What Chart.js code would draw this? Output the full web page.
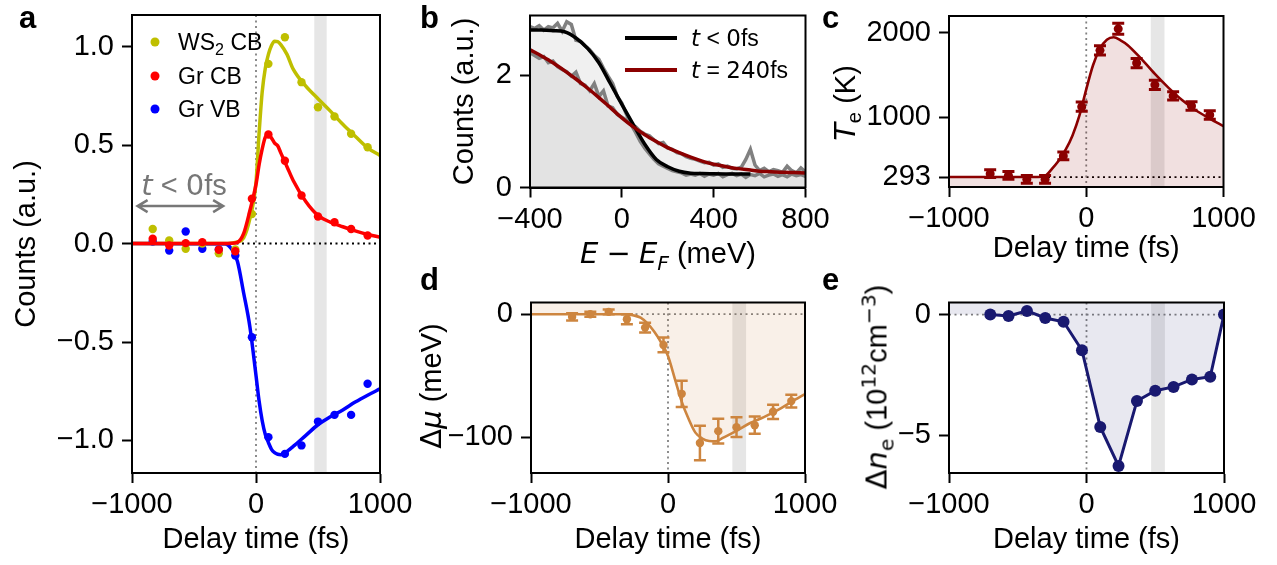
<!DOCTYPE html>
<html>
<head>
<meta charset="utf-8">
<script src="https://cdn.jsdelivr.net/npm/chart.js@4.4.1/dist/chart.umd.min.js"></script>
<style>
  html, body { margin: 0; padding: 0; background: #fff; }
  #fig { position: relative; width: 1277px; height: 565px; overflow: hidden; background: #fff;
         font-family: 'Liberation Sans', Arial, sans-serif; color: #000; }
  #fig canvas { position: absolute; }
  .txt { position: absolute; white-space: nowrap; line-height: 1; }
  .lbl { font-size: 29px; }
  .rot { transform: translate(-50%, -50%) rotate(-90deg); }
  .cen { transform: translate(-50%, -50%); }
  .vmid { transform: translateY(-50%); }
  .letter { font-weight: bold; font-size: 31px; }
  .m { font-family: 'DejaVu Sans', sans-serif; }
  sub, sup { font-size: 0.7em; line-height: 0; }
  .leg { font-size: 23px; }
  .dot { position: absolute; width: 9px; height: 9px; border-radius: 50%; transform: translate(-50%, -50%); }
  .sw { position: absolute; height: 4px; width: 52px; transform: translateY(-50%); }
</style>
</head>
<body>
<div id="fig">
  <canvas id="cA" width="420" height="565" style="left:0;top:0"></canvas>
  <canvas id="cB" width="420" height="270" style="left:420px;top:0"></canvas>
  <canvas id="cC" width="447" height="270" style="left:830px;top:0"></canvas>
  <canvas id="cD" width="420" height="295" style="left:420px;top:270px"></canvas>
  <canvas id="cE" width="447" height="295" style="left:830px;top:270px"></canvas>

  <div class="txt letter" style="left:19px;top:2px">a</div>
  <div class="txt letter" style="left:420px;top:2px">b</div>
  <div class="txt letter" style="left:822px;top:2px">c</div>
  <div class="txt letter" style="left:420px;top:264px">d</div>
  <div class="txt letter" style="left:822px;top:264px">e</div>

  <!-- legend a -->
  <span class="dot" style="left:155px;top:42px;background:#bfbf00"></span>
  <span class="dot" style="left:155px;top:76px;background:#ff0000"></span>
  <span class="dot" style="left:155px;top:109px;background:#0000ff"></span>
  <div class="txt leg vmid" style="left:178px;top:42px">WS<sub>2</sub> CB</div>
  <div class="txt leg vmid" style="left:178px;top:76px">Gr CB</div>
  <div class="txt leg vmid" style="left:178px;top:109px">Gr VB</div>
  <div class="txt cen" style="left:184px;top:185px;font-size:29px;color:#777"><i class="m">t</i> &lt; <span class="m">0</span>fs</div>

  <!-- legend b -->
  <span class="sw" style="left:625px;top:38px;background:#000"></span>
  <span class="sw" style="left:625px;top:70px;background:#8b0000"></span>
  <div class="txt leg vmid" style="left:691px;top:38px"><i class="m">t</i> &lt; <span class="m">0</span>fs</div>
  <div class="txt leg vmid" style="left:691px;top:70px"><i class="m">t</i> = <span class="m">240</span>fs</div>

  <!-- rich axis titles -->
  <div class="txt lbl cen" style="left:668px;top:253px"><i class="m">E</i> <span class="m">−</span> <i class="m">E</i><sub><i class="m">F</i></sub> (meV)</div>
  <div class="txt lbl rot" style="left:845px;top:103px"><i class="m">T</i><sub>e</sub> (K)</div>
  <div class="txt lbl rot" style="left:431px;top:386px"><span class="m">Δ</span><i class="m">μ</i> (meV)</div>
  <div class="txt lbl rot" style="left:877px;top:387px"><span class="m">Δ</span><i class="m">n</i><sub class="m">e</sub> (10<sup class="m">12</sup>cm<sup class="m">−3</sup>)</div>
</div>

<script>
// ---- panel a: band intensities ----
const delays = [-833, -700, -567, -433, -300, -167, -33, 100, 233, 367, 500, 633, 767, 900];
const ws2CB = [0.074, 0.015, -0.027, 0.0, -0.05, -0.03, 0.15, 0.912, 1.047, 0.819, 0.692, 0.645, 0.557, 0.489];
const grCB = [0.024, -0.01, 0.002, 0.007, -0.032, -0.039, 0.227, 0.553, 0.42, 0.244, 0.137, 0.108, 0.074, 0.041];
const grVB = [0.01, -0.036, 0.061, -0.027, -0.03, -0.061, -0.476, -0.983, -1.068, -1.025, -0.904, -0.87, -0.87, -0.712];

const fitT = [-1000, -250, -200, -150, -100, -50, 0, 25, 50, 75, 100, 125, 150, 175, 200, 250, 300, 400, 500, 600, 700, 800, 900, 1000];
const ws2Fit = [0, 0, 0.002, 0.008, 0.028, 0.125, 0.31, 0.56, 0.77, 0.89, 0.96, 1.005, 1.027, 1.025, 1.01, 0.96, 0.885, 0.80, 0.735, 0.672, 0.605, 0.545, 0.486, 0.447];
const cbFit = [0, 0, 0.001, 0.006, 0.05, 0.165, 0.30, 0.40, 0.48, 0.54, 0.552, 0.535, 0.51, 0.496, 0.46, 0.39, 0.32, 0.215, 0.143, 0.108, 0.085, 0.064, 0.046, 0.032];
const vbFit = [0, -0.002, -0.025, -0.09, -0.25, -0.42, -0.67, -0.80, -0.90, -0.97, -1.01, -1.045, -1.062, -1.07, -1.072, -1.055, -1.03, -0.975, -0.92, -0.88, -0.845, -0.805, -0.77, -0.738];

// ---- panel b: energy distribution curves ----
const energy = [-400, -380, -360, -340, -320, -300, -280, -260, -240, -220, -200, -180, -160, -140, -120, -100, -80, -60, -40, -20,
  0, 20, 40, 60, 80, 100, 120, 140, 160, 180, 200, 220, 240, 260, 280, 300, 320, 340, 360, 380,
  400, 420, 440, 460, 480, 500, 520, 540, 560, 580, 600, 620, 640, 660, 680, 700, 720, 740, 760, 780, 800];
const edcBefore = [2.86, 2.83, 2.88, 2.80, 2.86, 2.84, 2.92, 2.78, 2.95, 2.90, 2.62, 2.60, 2.52, 2.45, 2.35, 2.28, 2.12, 1.98, 1.85, 1.62,
  1.50, 1.30, 1.12, 0.98, 0.82, 0.70, 0.60, 0.50, 0.42, 0.38, 0.34, 0.30, 0.28, 0.26, 0.22, 0.24, 0.22, 0.25, 0.20, 0.24,
  0.22, 0.25, 0.19, 0.23, 0.25, 0.21, 0.24, 0.18, 0.23, 0.21, 0.25, 0.19, 0.22, 0.24, 0.20, 0.23, 0.19, 0.24, 0.21, 0.23, 0.20];
const edcAfter = [2.40, 2.35, 2.30, 2.33, 2.22, 2.25, 2.15, 2.10, 2.06, 1.98, 2.05, 1.85, 1.82, 1.72, 1.85, 1.62, 1.72, 1.45, 1.42, 1.30,
  1.25, 1.20, 1.12, 1.08, 1.00, 0.95, 0.92, 0.85, 0.78, 0.80, 0.70, 0.68, 0.62, 0.60, 0.55, 0.52, 0.50, 0.47, 0.44, 0.45,
  0.40, 0.42, 0.36, 0.38, 0.34, 0.33, 0.36, 0.50, 0.68, 0.40, 0.30, 0.34, 0.28, 0.32, 0.30, 0.27, 0.38, 0.30, 0.26, 0.35, 0.28];
const fitE = [-400, -350, -300, -250, -200, -150, -100, -50, 0, 50, 100, 150, 200, 250, 300, 350, 400, 450, 500, 560, 600, 650, 700, 750, 800];
const fermiBefore = [2.80, 2.80, 2.79, 2.77, 2.66, 2.48, 2.22, 1.85, 1.48, 1.12, 0.77, 0.50, 0.37, 0.29, 0.255, 0.247, 0.243, 0.241, 0.24, 0.24, null, null, null, null, null];
const fermiAfter = [2.45, 2.34, 2.22, 2.08, 1.93, 1.77, 1.60, 1.42, 1.24, 1.08, 0.94, 0.82, 0.71, 0.62, 0.54, 0.47, 0.415, 0.375, 0.34, 0.31, 0.29, 0.28, 0.27, 0.265, 0.26];

// ---- panel c: electron temperature ----
const fitDelays = [-700, -567, -433, -300, -167, -33, 100, 233, 367, 500, 633, 767, 900];
const tempE = [333, 313, 265, 265, 543, 1126, 1793, 2048, 1643, 1385, 1254, 1135, 1027];
const tempErr = [45, 45, 45, 45, 45, 55, 55, 65, 55, 55, 50, 50, 50];
const tempFitT = [-1000, -400, -350, -300, -250, -200, -150, -100, -50, 0, 50, 100, 150, 200, 250, 300, 400, 500, 600, 700, 800, 900, 1000];
const tempFit = [293, 293, 293, 305, 390, 490, 617, 786, 1019, 1332, 1620, 1814, 1920, 1948, 1912, 1858, 1695, 1514, 1349, 1202, 1081, 985, 896];

// ---- panel d: chemical potential ----
const muShift = [-2.2, 0, 1.9, -4.1, -10.9, -25, -64.7, -104.6, -95, -91.8, -90.2, -79.3, -70.6];
const muErr = [3, 2, 2, 4, 4, 6, 10.6, 14, 10, 8, 7, 5.8, 5.2];
const muFitT = [-1000, -350, -300, -250, -200, -150, -100, -50, 0, 50, 100, 150, 200, 250, 300, 350, 400, 500, 600, 700, 800, 900, 1000];
const muFit = [0, 0, -0.3, -1.0, -2.8, -7.5, -14.3, -23, -34, -52.5, -71, -85, -96.2, -101, -103, -103.2, -100.5, -94.8, -88.4, -83.6, -78, -71.3, -64.9];

// ---- panel e: carrier density change ----
const densDelays = [-700, -567, -433, -300, -167, -33, 100, 233, 367, 500, 633, 767, 900, 1000];
const densShift = [0, -0.06, 0.15, -0.14, -0.3, -1.48, -4.66, -6.28, -3.58, -3.16, -3.0, -2.69, -2.58, 0];

const timeTicks = [-1000, 0, 1000];
const bandRange = [470, 570];

Chart.defaults.font.family = "'Liberation Sans', Arial, sans-serif";
Chart.defaults.font.size = 29;
Chart.defaults.color = '#000';
Chart.defaults.animation = false;
Chart.defaults.plugins.legend.display = false;
Chart.defaults.plugins.tooltip.enabled = false;

function fmt(v, dec) {
  const s = Math.abs(v).toFixed(dec);
  return (v < 0 ? '\u2212' : '') + s;
}

function pts(xs, ys) {
  const out = [];
  xs.forEach((x, i) => { if (ys[i] !== null) out.push({ x: x, y: ys[i] }); });
  return out;
}

function axis(isX, min, max, tickVals, dec, size, title, titlePad) {
  return {
    type: 'linear',
    min: min,
    max: max,
    afterBuildTicks: (s) => { s.ticks = tickVals.map((v) => ({ value: v })); },
    afterFit: (s) => {
      // fixed box size, no extra overhang padding: chart area is set by layout padding alone
      if (isX) s.height = size; else s.width = size;
      s.paddingTop = 0; s.paddingBottom = 0; s.paddingLeft = 0; s.paddingRight = 0;
    },
    ticks: { autoSkip: false, maxRotation: 0, padding: isX ? 5 : 8, color: '#000', callback: (v) => fmt(v, dec) },
    grid: { display: true, drawOnChartArea: false, drawTicks: true, tickLength: 10, tickWidth: 2, tickColor: '#000' },
    border: { display: true, color: '#000', width: 2 },
    title: title ? { display: true, text: title, color: '#000', padding: titlePad } : { display: false },
  };
}

function dotLine(ctx, x0, y0, x1, y1, color) {
  ctx.save();
  ctx.strokeStyle = color;
  ctx.lineWidth = 1.8;
  ctx.setLineDash([2, 3.5]);
  ctx.beginPath();
  ctx.moveTo(x0, y0);
  ctx.lineTo(x1, y1);
  ctx.stroke();
  ctx.restore();
}

const deco = {
  id: 'deco',
  beforeDatasetsDraw(chart, args, o) {
    const { ctx, chartArea: ca, scales } = chart;
    const x = scales.x, y = scales.y;
    ctx.save();
    ctx.beginPath();
    ctx.rect(ca.left, ca.top, ca.right - ca.left, ca.bottom - ca.top);
    ctx.clip();
    if (o.band) {
      const x0 = x.getPixelForValue(o.band[0]), x1 = x.getPixelForValue(o.band[1]);
      ctx.fillStyle = 'rgba(128,128,128,0.2)';
      ctx.fillRect(x0, ca.top, x1 - x0, ca.bottom - ca.top);
    }
    if (o.hline !== undefined) {
      const py = y.getPixelForValue(o.hline);
      dotLine(ctx, ca.left, py, ca.right, py, o.hlineColor || '#808080');
    }
    if (o.vline !== undefined) {
      const px = x.getPixelForValue(o.vline);
      dotLine(ctx, px, ca.top, px, ca.bottom, '#808080');
    }
    ctx.restore();
  },
  afterDatasetsDraw(chart, args, o) {
    const { ctx, scales } = chart;
    const x = scales.x, y = scales.y;
    ctx.save();
    if (o.errors) {
      const e = o.errors;
      ctx.strokeStyle = e.color;
      ctx.lineWidth = e.width;
      e.xs.forEach((xv, i) => {
        const px = x.getPixelForValue(xv);
        const y0 = y.getPixelForValue(e.ys[i] - e.err[i]);
        const y1 = y.getPixelForValue(e.ys[i] + e.err[i]);
        ctx.beginPath();
        ctx.moveTo(px, y0); ctx.lineTo(px, y1);
        ctx.moveTo(px - e.cap, y0); ctx.lineTo(px + e.cap, y0);
        ctx.moveTo(px - e.cap, y1); ctx.lineTo(px + e.cap, y1);
        ctx.stroke();
      });
    }
    if (o.arrow) {
      const a = o.arrow;
      const x0 = x.getPixelForValue(a.from), x1 = x.getPixelForValue(a.to), py = y.getPixelForValue(a.y);
      ctx.strokeStyle = a.color;
      ctx.lineWidth = 2.5;
      ctx.beginPath();
      ctx.moveTo(x0, py); ctx.lineTo(x1, py);
      ctx.moveTo(x0 + 10, py - 6); ctx.lineTo(x0, py); ctx.lineTo(x0 + 10, py + 6);
      ctx.moveTo(x1 - 10, py - 6); ctx.lineTo(x1, py); ctx.lineTo(x1 - 10, py + 6);
      ctx.stroke();
    }
    ctx.restore();
  },
  afterDraw(chart) {
    const { ctx, chartArea: ca } = chart;
    ctx.save();
    ctx.strokeStyle = '#000';
    ctx.lineWidth = 2;
    ctx.strokeRect(ca.left, ca.top, ca.right - ca.left, ca.bottom - ca.top);
    ctx.restore();
  },
};

function scatterSet(data, color, r, order) {
  return { data: data, showLine: false, pointRadius: r, pointBackgroundColor: color, pointBorderWidth: 0, order: order };
}

function lineSet(data, color, w, order, extra) {
  return Object.assign({
    data: data, showLine: true, borderColor: color, borderWidth: w, pointRadius: 0,
    cubicInterpolationMode: 'monotone', fill: false, order: order,
  }, extra || {});
}

// panel a
new Chart(document.getElementById('cA'), {
  type: 'scatter',
  data: {
    datasets: [
      lineSet(pts(fitT, cbFit), '#ff0000', 3.5, 1),
      scatterSet(pts(delays, grCB), '#ff0000', 4.2, 2),
      lineSet(pts(fitT, ws2Fit), '#bfbf00', 3.5, 3),
      scatterSet(pts(delays, ws2CB), '#bfbf00', 4.2, 4),
      lineSet(pts(fitT, vbFit), '#0000ff', 3.5, 5),
      scatterSet(pts(delays, grVB), '#0000ff', 4.2, 6),
    ],
  },
  options: {
    responsive: false,
    layout: { padding: { left: 0, top: 15, right: 40, bottom: 0 } },
    scales: {
      x: axis(true, -1000, 1000, timeTicks, 0, 92, 'Delay time (fs)', { top: 0, bottom: 8 }),
      y: axis(false, -1.165, 1.16, [-1.0, -0.5, 0.0, 0.5, 1.0], 1, 132, 'Counts (a.u.)', { top: 10, bottom: 0 }),
    },
    plugins: {
      deco: { band: bandRange, hline: 0, hlineColor: '#000', vline: 0, arrow: { from: -955, to: -265, y: 0.19, color: '#777' } },
    },
  },
  plugins: [deco],
});

// panel b
new Chart(document.getElementById('cB'), {
  type: 'scatter',
  data: {
    datasets: [
      lineSet(pts(fitE, fermiAfter), '#8b0000', 3.5, 1),
      lineSet(pts(fitE, fermiBefore), '#000000', 3.5, 2),
      lineSet(pts(energy, edcAfter), '#808080', 3.5, 3, { cubicInterpolationMode: 'default', tension: 0, fill: 'origin', backgroundColor: 'rgba(128,128,128,0.12)' }),
      lineSet(pts(energy, edcBefore), '#808080', 3.5, 4, { cubicInterpolationMode: 'default', tension: 0, fill: 'origin', backgroundColor: 'rgba(128,128,128,0.12)' }),
    ],
  },
  options: {
    responsive: false,
    layout: { padding: { left: 0, top: 15.5, right: 34.5, bottom: 0 } },
    scales: {
      x: axis(true, -400, 800, [-400, 0, 400, 800], 0, 82.5, null),
      y: axis(false, 0, 3.06, [0, 2], 0, 110, 'Counts (a.u.)', { top: 28, bottom: 0 }),
    },
    plugins: { deco: {} },
  },
  plugins: [deco],
});

// panel c
new Chart(document.getElementById('cC'), {
  type: 'scatter',
  data: {
    datasets: [
      scatterSet(pts(fitDelays, tempE), '#8b0000', 4.5, 1),
      lineSet(pts(tempFitT, tempFit), '#8b0000', 2.6, 2, { fill: 'start', backgroundColor: 'rgba(139,0,0,0.12)' }),
    ],
  },
  options: {
    responsive: false,
    layout: { padding: { left: 0, top: 16, right: 53.5, bottom: 0 } },
    scales: {
      x: axis(true, -1000, 1000, timeTicks, 0, 83, 'Delay time (fs)', { top: 0, bottom: 4 }),
      y: axis(false, 175, 2200, [293, 1000, 2000], 0, 119, null),
    },
    plugins: {
      deco: { band: bandRange, hline: 293, hlineColor: '#000', vline: 0,
              errors: { xs: fitDelays, ys: tempE, err: tempErr, color: '#8b0000', width: 3, cap: 6 } },
    },
  },
  plugins: [deco],
});

// panel d
new Chart(document.getElementById('cD'), {
  type: 'scatter',
  data: {
    datasets: [
      scatterSet(pts(fitDelays, muShift), '#cd853f', 4.2, 1),
      lineSet(pts(muFitT, muFit), '#cd853f', 2.6, 2, { fill: 'end', backgroundColor: 'rgba(205,133,63,0.12)' }),
    ],
  },
  options: {
    responsive: false,
    layout: { padding: { left: 0, top: 32.5, right: 35, bottom: 0 } },
    scales: {
      x: axis(true, -1000, 1000, timeTicks, 0, 92, 'Delay time (fs)', { top: 0, bottom: 8 }),
      y: axis(false, -129, 9.5, [-100, 0], 0, 111, null),
    },
    plugins: {
      deco: { band: bandRange, hline: 0, vline: 0,
              errors: { xs: fitDelays, ys: muShift, err: muErr, color: '#cd853f', width: 2.5, cap: 6 } },
    },
  },
  plugins: [deco],
});

// panel e
new Chart(document.getElementById('cE'), {
  type: 'scatter',
  data: {
    datasets: [
      lineSet(pts(densDelays, densShift), '#191970', 3, 1, { cubicInterpolationMode: 'default', tension: 0, pointRadius: 6, pointBackgroundColor: '#191970', pointBorderWidth: 0 }),
      lineSet(pts([-1000].concat(densDelays), [0].concat(densShift)), 'rgba(0,0,0,0)', 0, 2, { cubicInterpolationMode: 'default', tension: 0, fill: 'end', backgroundColor: 'rgba(25,25,112,0.1)' }),
    ],
  },
  options: {
    responsive: false,
    layout: { padding: { left: 0, top: 32.5, right: 53, bottom: 0 } },
    scales: {
      x: axis(true, -1000, 1000, timeTicks, 0, 92, 'Delay time (fs)', { top: 0, bottom: 8 }),
      y: axis(false, -6.57, 0.5, [-5, 0], 0, 119, null),
    },
    plugins: { deco: { band: bandRange, hline: 0, vline: 0 } },
  },
  plugins: [deco],
});
</script>
</body>
</html>
